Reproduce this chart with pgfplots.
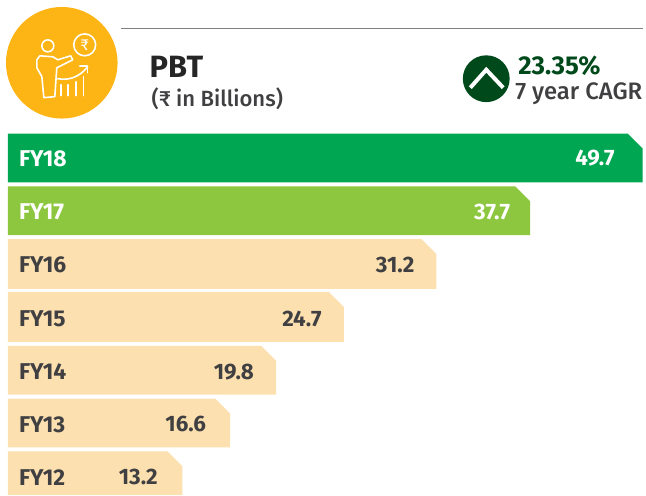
\documentclass[border=0pt]{standalone}
\usepackage{pgfplots}
\usepackage{pgfplotstable}
\usepackage{fontspec}
\pgfplotsset{compat=1.18}
\setmainfont{Fira Sans}
\newfontfamily\medium{Fira Sans Medium}
\definecolor{txt}{HTML}{404042}
\definecolor{gr1}{HTML}{00A651}
\definecolor{gr2}{HTML}{8DC63F}
\definecolor{cream}{HTML}{FDE0AF}
\definecolor{gold}{HTML}{FDB515}
\definecolor{dkgr}{HTML}{00491B}

% bar ends are in image pixels, the printed values do not scale linearly
\pgfplotstableread{
x y label
617 159 49.7
512 213 37.7
}\whitevals
\pgfplotstableread{
x y label
416 266 31.2
323 320 24.7
255 373 19.8
207 426 16.6
158.5 479 13.2
}\darkvals
\pgfplotstableread{
x y label
19 159 FY18
19 213 FY17
}\whitecats
\pgfplotstableread{
x y label
19 266 FY16
19 320 FY15
19 373 FY14
19 426 FY13
19 479 FY12
}\darkcats

\newcommand{\sz}[1]{\fontsize{#1}{#1}\selectfont}

\begin{document}
\begin{tikzpicture}
\begin{axis}[
  scale only axis, width=646bp, height=497bp,
  xmin=0, xmax=646, ymin=0, ymax=497, y dir=reverse,
  axis lines=none, clip=false,
  nodes near coords, point meta=explicit symbolic,
]
\pgfplotsset{
  vals/.style={only marks, mark=none, nodes near coords style={anchor=east, inner sep=0pt, font=\sz{22.5}\bfseries, text=#1}},
  cats/.style={only marks, mark=none, nodes near coords style={anchor=west, inner sep=0pt, font=\sz{23}\bfseries, text=#1}},
}
% hidden axis adds nothing to the bounding box
\path (axis cs:0,0) rectangle (axis cs:646,497);
\addplot[fill=gr1,draw=none,nodes near coords={}] coordinates {(8,134) (630,134) (645,149) (645,183) (8,183)} -- cycle;
\addplot[fill=gr2,draw=none,nodes near coords={}] coordinates {(8,187) (517,187) (532,202) (532,236) (8,236)} -- cycle;
\addplot[fill=cream,draw=none,nodes near coords={}] coordinates {(8,240) (423,240) (438,255) (438,290) (8,290)} -- cycle;
\addplot[fill=cream,draw=none,nodes near coords={}] coordinates {(8,293) (330,293) (345,308) (345,343) (8,343)} -- cycle;
\addplot[fill=cream,draw=none,nodes near coords={}] coordinates {(8,347) (262,347) (277,362) (277,396) (8,396)} -- cycle;
\addplot[fill=cream,draw=none,nodes near coords={}] coordinates {(8,400) (216,400) (231,415) (231,449) (8,449)} -- cycle;
\addplot[fill=cream,draw=none,nodes near coords={}] coordinates {(8,453) (168,453) (183,468) (183,497) (8,497)} -- cycle;

\addplot[vals=white] table[x=x,y=y,meta=label] {\whitevals};
\addplot[vals=txt] table[x=x,y=y,meta=label] {\darkvals};
\addplot[cats=white] table[x=x,y=y,meta=label] {\whitecats};
\addplot[cats=txt] table[x=x,y=y,meta=label] {\darkcats};

% header
\draw[color=gray,line width=1.5bp] (axis cs:121,28.5) -- (axis cs:645.2,28.5);
\fill[gold] (axis cs:62,63) circle[radius=56bp];
\begin{scope}[white,line width=1.6bp,line join=round,line cap=round]
  \draw (axis cs:48,46) circle[radius=6bp];
  \draw (axis cs:85,45) circle[radius=11bp];
  \node[text=white,inner sep=0pt,font=\sz{16}] at (axis cs:85,45) {₹};
  \draw (axis cs:37,60) -- (axis cs:40,56) -- (axis cs:53,57) -- (axis cs:58,60) -- (axis cs:71,56) -- (axis cs:73,60)
    -- (axis cs:57,68) -- (axis cs:55,97) -- (axis cs:44,98) -- (axis cs:42,77) -- (axis cs:37,68) -- cycle;
  \draw (axis cs:58,79) .. controls (axis cs:70,81) and (axis cs:80,77) .. (axis cs:88,67);
  \draw (axis cs:80,66) -- (axis cs:88,66) -- (axis cs:88,73);
  \draw (axis cs:61,85) -- (axis cs:61,96);
  \draw (axis cs:68,85) -- (axis cs:68,96);
  \draw (axis cs:76,82) -- (axis cs:76,96);
  \draw (axis cs:84,77) -- (axis cs:84,96);
\end{scope}
\node[anchor=base west,inner sep=0pt,text=black!85,font=\sz{31}\bfseries] at (axis cs:150,78) {PBT};
\node[anchor=base west,inner sep=0pt,text=txt,font=\sz{22.2}\medium] at (axis cs:152,107) {(₹ in Billions)};
\fill[dkgr] (axis cs:488,79) circle[radius=23.5bp];
\draw[white,line width=4bp] (axis cs:472,88) -- (axis cs:488,70) -- (axis cs:505,88);
\node[anchor=base west,inner sep=0pt,text=dkgr,font=\sz{26}\bfseries] at (axis cs:520,75) {23.35\%};
\node[anchor=base west,inner sep=0pt,text=txt,font=\sz{24}\medium] at (axis cs:517,100) {7 year CAGR};
\end{axis}
\end{tikzpicture}
\end{document}
